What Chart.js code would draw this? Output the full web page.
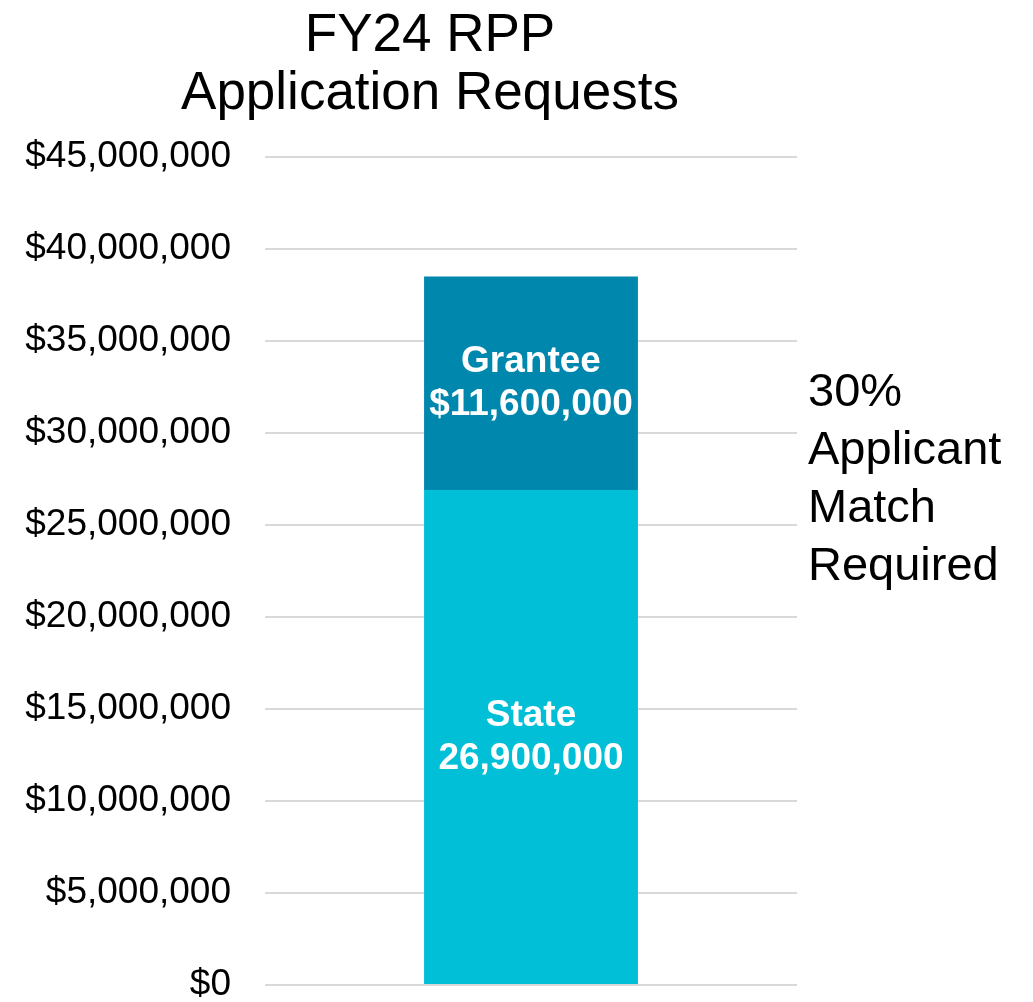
<!DOCTYPE html>
<html>
<head>
<meta charset="utf-8">
<script src="https://cdn.jsdelivr.net/npm/chart.js@4.4.0/dist/chart.umd.min.js"></script>
<style>
  html, body { margin: 0; padding: 0; background: #ffffff; }
  #wrap { width: 1033px; height: 1002px; }
</style>
</head>
<body>
<div id="wrap"><canvas id="myChart" width="1033" height="1002"></canvas></div>
<script>
// data
const categories = ['FY24 RPP'];
const stateValues = [26900000];
const granteeValues = [11600000];
const stateLabel = ['State', '26,900,000'];
const granteeLabel = ['Grantee', '$11,600,000'];
const titleLines = ['FY24 RPP', 'Application Requests'];
const noteLines = ['30%', 'Applicant', 'Match', 'Required'];
const yMax = 45000000;
const yStep = 5000000;

const FONT = "'Liberation Sans', Arial, sans-serif";

// text inside each bar segment
const segmentText = {
    id: 'segmentText',
    afterDatasetsDraw(chart) {
        const ctx = chart.ctx;
        ctx.save();
        ctx.fillStyle = '#ffffff';
        ctx.font = 'bold 37px ' + FONT;
        ctx.textAlign = 'center';
        ctx.textBaseline = 'middle';
        chart.data.datasets.forEach((ds, i) => {
            chart.getDatasetMeta(i).data.forEach(bar => {
                const cy = (bar.y + bar.base) / 2;
                const lines = ds.segLines;
                const lh = 43;
                lines.forEach((t, k) => {
                    ctx.fillText(t, bar.x, cy + (k - (lines.length - 1) / 2) * lh);
                });
            });
        });
        ctx.restore();
    }
};

// title and note on the right side
const sideText = {
    id: 'sideText',
    afterDraw(chart) {
        const ctx = chart.ctx;
        const a = chart.chartArea;
        ctx.save();
        ctx.fillStyle = '#000000';
        ctx.textBaseline = 'middle';

        ctx.font = '53px ' + FONT;
        ctx.textAlign = 'center';
        titleLines.forEach((t, k) => {
            ctx.fillText(t, 430, 36 + k * 58);
        });

        ctx.font = '47px ' + FONT;
        ctx.textAlign = 'left';
        noteLines.forEach((t, k) => {
            ctx.fillText(t, a.right + 11, 393 + k * 58);
        });
        ctx.restore();
    }
};

const ctx = document.getElementById('myChart').getContext('2d');
new Chart(ctx, {
    type: 'bar',
    data: {
        labels: categories,
        datasets: [
            {
                label: 'State',
                data: stateValues,
                backgroundColor: '#00BFD6',
                segLines: stateLabel,
                categoryPercentage: 1,
                barPercentage: 0.402
            },
            {
                label: 'Grantee',
                data: granteeValues,
                backgroundColor: '#0087AD',
                segLines: granteeLabel,
                categoryPercentage: 1,
                barPercentage: 0.402
            }
        ]
    },
    options: {
        responsive: false,
        animation: false,
        layout: { padding: { left: 0, right: 236, top: 157, bottom: 17 } },
        plugins: {
            legend: { display: false },
            tooltip: { enabled: false },
            title: { display: false }
        },
        scales: {
            x: {
                display: false,
                stacked: true
            },
            y: {
                stacked: true,
                min: 0,
                max: yMax,
                afterFit(scale) {
                    scale.width = 265;
                    scale.paddingTop = 0;
                    scale.paddingBottom = 0;
                },
                border: { display: false },
                grid: { color: '#D9D9D9', lineWidth: 2, drawTicks: false },
                ticks: {
                    stepSize: yStep,
                    padding: 34,
                    color: '#000000',
                    font: { family: FONT, size: 37 },
                    callback: v => '$' + v.toLocaleString('en-US')
                }
            }
        }
    },
    plugins: [segmentText, sideText]
});
</script>
</body>
</html>
